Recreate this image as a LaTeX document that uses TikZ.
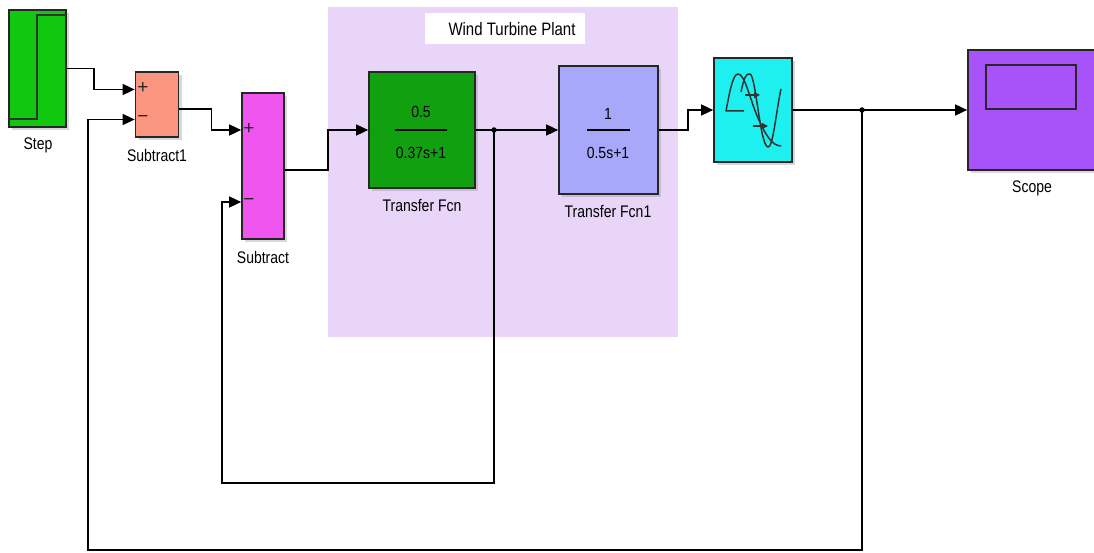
\documentclass[tikz,border=0pt]{standalone}
\usepackage{fontspec}
\setmainfont{Liberation Sans}
\usetikzlibrary{arrows.meta, positioning, calc, shadows}
\definecolor{stepGreen}{RGB}{17,200,17}
\definecolor{subSalmon}{RGB}{250,150,128}
\definecolor{subMagenta}{RGB}{240,85,240}
\definecolor{tfGreen}{RGB}{16,160,16}
\definecolor{tfBlue}{RGB}{168,168,250}
\definecolor{delayCyan}{RGB}{30,240,240}
\definecolor{scopePurple}{RGB}{168,82,250}
\definecolor{plantLilac}{RGB}{233,213,248}

\begin{document}
\begin{tikzpicture}[x=1pt, y=-1pt, >={Triangle[length=12pt, width=11pt]},
    blk/.style={draw=black!85, line width=1.7pt, inner sep=0pt,
        drop shadow={shadow xshift=3pt, shadow yshift=-3pt, opacity=0.3}},
    sig/.style={line width=1.6pt, ->},
    lbl/.style={font=\fontsize{14}{16}\selectfont, yscale=1.2, inner sep=0pt},
    num/.style={font=\fontsize{14}{16}\selectfont, yscale=1.15, inner sep=0pt},
    sign/.style={font=\fontsize{19}{21}\selectfont, inner sep=0pt, black!85},
    dot/.style={circle, fill=black, inner sep=0pt, minimum size=5.5pt}]
    \useasboundingbox (0,0) rectangle (1094,553);
    \fill[white] (0,0) rectangle (1094,553);
    \clip (0,0) rectangle (1094,553);

    % plant area
    \node[fill=plantLilac, minimum width=350pt, minimum height=330pt, inner sep=0pt] (plant) at (503,172) {};
    \node[fill=white, minimum width=160pt, minimum height=31pt, inner sep=0pt] (ptbox) at (505,29) {};
    \node[lbl, font=\fontsize{15}{17}\selectfont] (ptitle) at (512,29) {Wind Turbine Plant};

    % blocks
    \node[blk, fill=stepGreen, minimum width=57pt, minimum height=117pt] (step) at (37.5,68.5) {};
    \node[blk, fill=subSalmon, minimum width=43pt, minimum height=65pt] (sub1) at (157,104.5) {};
    \node[blk, fill=subMagenta, minimum width=42pt, minimum height=146pt] (sub) at (263,166) {};
    \node[blk, fill=tfGreen, minimum width=106pt, minimum height=116pt] (tf) at (422,130) {};
    \node[blk, fill=tfBlue, minimum width=99pt, minimum height=128pt] (tf1) at (608.5,130) {};
    \node[blk, fill=delayCyan, minimum width=78pt, minimum height=104pt] (sat) at (753,110) {};
    \node[blk, fill=scopePurple, minimum width=128pt, minimum height=120pt] (scope) at (1032,110) {};

    % step icon
    \draw[line width=1.8pt, black!80] (9,119) -- (37,119) -- (37,15) -- (66,15);
    % scope screen
    \draw[line width=1.6pt, black!85] ($(scope.north west)+(19,16)$) rectangle ++(90,44);
    % delay icon
    \draw[line width=1.5pt, black!80, line join=round]
        (744,111) -- (726,111) .. controls (730,90) and (733,74) .. (738,74)
        .. controls (745,74) and (750,100) .. (758,118)
        .. controls (765,134) and (772,146) .. (781,146);
    \draw[line width=1.5pt, black!80, line join=round]
        (741,92) .. controls (744,78) and (746,73) .. (750,74)
        .. controls (756,76) and (760,146) .. (768,147)
        .. controls (773,148) and (776,112) .. (781,89);
    \draw[line width=1.3pt, black!80, -{Triangle[length=6pt, width=6pt]}] (745,95) -- (760,95);
    \draw[line width=1.3pt, black!80, -{Triangle[length=6pt, width=6pt]}] (753,126) -- (768,126);

    % transfer functions
    \node[num] (tfnum) at (421,112) {0.5};
    \node[num] (tfden) at (421,153) {0.37s+1};
    \draw[line width=1.4pt] (395,130) -- (447,130);
    \node[num] (tf1num) at (608,114) {1};
    \node[num] (tf1den) at (608,153) {0.5s+1};
    \draw[line width=1.4pt] (587,130) -- (630,130);

    % signs
    \node[sign] at (143,88) {+};
    \node[sign] at (143,119) {−};
    \node[sign] at (249,129) {+};
    \node[sign] at (249,202) {−};

    % labels
    \node[lbl] at (38,145) {Step};
    \node[lbl] at (157,155) {Subtract1};
    \node[lbl] at (263,257) {Subtract};
    \node[lbl] at (422,206) {Transfer Fcn};
    \node[lbl] at (608,212) {Transfer Fcn1};
    \node[lbl] at (1032,188) {Scope};

    % ports and junctions
    \coordinate (sub1p) at ($(sub1.west)+(0,-15)$);
    \coordinate (sub1m) at ($(sub1.west)+(0,15)$);
    \coordinate (sub1o) at ($(sub1.east)+(0,4.5)$);
    \coordinate (subp) at ($(sub.west)+(0,-36)$);
    \coordinate (subm) at ($(sub.west)+(0,36)$);
    \coordinate (subo) at ($(sub.east)+(0,4)$);
    \coordinate (j1) at (494,130);
    \coordinate (j2) at (862,110);

    % signals
    \draw[sig] (step.east) -- ++(27,0) |- (sub1p);
    \draw[sig] (sub1o) -- ++(32,0) |- (subp);
    \draw[sig] (subo) -- ++(43,0) |- (tf.west);
    \draw[sig] (tf.east) -- (tf1.west);
    \draw[sig] (tf1.east) -- ++(29,0) |- (sat.west);
    \draw[sig] (sat.east) -- (scope.west);
    \draw[sig] (j1) |- (222,483) |- (subm);
    \draw[sig] (j2) |- (88,550) |- (sub1m);
    \node[dot] at (j1) {};
    \node[dot] at (j2) {};
\end{tikzpicture}
\end{document}
